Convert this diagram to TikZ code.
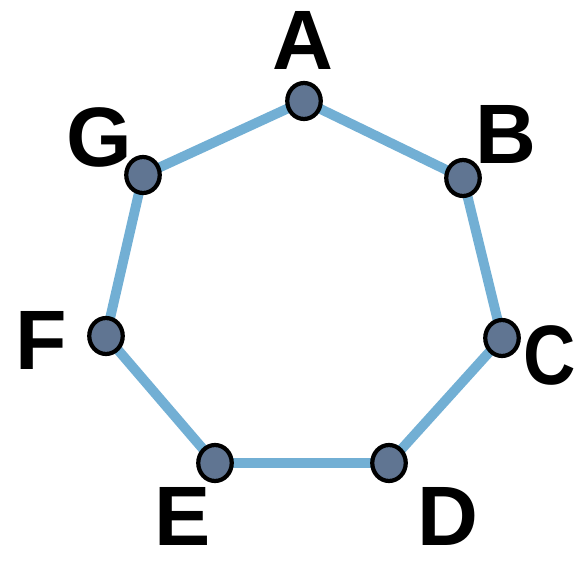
\documentclass[tikz,border=0pt]{standalone}
\usepackage{fontspec}
\setmainfont{Liberation Sans}
\usepackage{graphicx}
\usepackage{tikz}
\usepackage{xcolor}
\usetikzlibrary{shapes.geometric,backgrounds}

\definecolor{edgeblue}{RGB}{114,175,212}
\definecolor{vertexfill}{RGB}{96,117,146}

\begin{document}
\begin{tikzpicture}[x=0.02cm, y=-0.02cm,
    vertex/.style={draw=black, line width=2.4pt, ellipse, fill=vertexfill, minimum width=0.67cm, minimum height=0.72cm, inner sep=0pt},
    letter/.style={font=\fontsize{48}{48}\selectfont\bfseries, inner sep=0pt},
    edge/.style={draw=edgeblue, line width=5.6pt}]
    \useasboundingbox (0,0) rectangle (578,563);

    % Vertices
    \node[vertex] (A) at (304,101) {};
    \node[vertex] (B) at (463,178) {};
    \node[vertex] (C) at (502,338) {};
    \node[vertex] (D) at (389,463) {};
    \node[vertex] (E) at (215,463) {};
    \node[vertex] (F) at (106,336) {};
    \node[vertex] (G) at (143,175) {};

    % Labels
    \node[letter] (lA) at (303,40) {A};
    \node[letter] (lB) at (506,134) {B};
    \node[letter] (lC) at (550,355) {\scalebox{0.86}[1]{C}};
    \node[letter] (lD) at (448,516) {D};
    \node[letter] (lE) at (183,516) {E};
    \node[letter] (lF) at (41,340) {F};
    \node[letter] (lG) at (99,137) {G};

    % Edges
    \begin{scope}[on background layer]
        \draw[edge] (A.center) -- (B.center) -- (C.center) -- (D.center) -- (E.center) -- (F.center) -- (G.center) -- cycle;
    \end{scope}
\end{tikzpicture}
\end{document}
